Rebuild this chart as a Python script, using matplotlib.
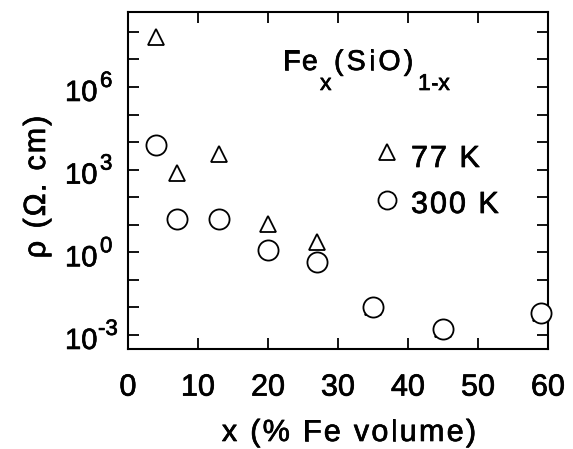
import matplotlib
matplotlib.use("Agg")
import matplotlib.pyplot as plt
import matplotlib.patheffects as pe
import numpy as np
from matplotlib.ticker import FixedLocator, NullFormatter
from matplotlib.font_manager import FontProperties, findfont, get_font

# Data (log10 of resistivity, Ohm.cm)
x_77 = [4, 7, 13, 20, 27, 35, 45, 59]
logrho_77 = [7.8, 2.86, 3.58, 1.04, 0.36, -2.0, -2.8, -2.2]
x_300 = [4, 7, 13, 20, 27, 35, 45, 59]
logrho_300 = [3.9, 1.19, 1.22, 0.07, -0.36, -2.0, -2.8, -2.2]

xticks = [0, 10, 20, 30, 40, 50, 60]
ytick_exp = [-3, 0, 3, 6]
series_labels = ['77 K', '300 K']

FAM = 'Liberation Sans'
plt.rcParams['font.family'] = [FAM, 'DejaVu Sans']

W, H, DPI = 573, 449, 100
fig = plt.figure(figsize=(W / DPI, H / DPI), dpi=DPI)
ax = fig.add_axes([128 / W, 1 - 349 / H, 420 / W, 337 / H])

_font = get_font(findfont(FontProperties(family=FAM)))
THICK = [pe.withStroke(linewidth=0.5, foreground='black')]


def adv(ch, size):
    _font.set_size(size, DPI)
    g = _font.load_char(ord(ch))
    return g.linearHoriAdvance / 65536.0


def tracked_width(s, size, track):
    return sum(adv(c, size) for c in s) + track * (len(s) - 1)


def tracked(x_px, y_px, s, size, track, rotation=0):
    pos = x_px if rotation == 0 else y_px
    for ch in s:
        if rotation == 0:
            fig.text(pos / W, 1 - y_px / H, ch, ha='left', va='baseline', fontsize=size,
                     path_effects=THICK)
            pos += adv(ch, size) + track
        else:
            fig.text(x_px / W, 1 - pos / H, ch, rotation=90, rotation_mode='anchor',
                     ha='left', va='baseline', fontsize=size, path_effects=THICK)
            pos -= adv(ch, size) + track


mk = dict(linestyle='none', markerfacecolor='white', markeredgecolor='black',
          markeredgewidth=1.3)

ax.set_yscale('log')
ax.plot(x_77, 10.0 ** np.array(logrho_77), marker='^', markersize=11, zorder=3,
        clip_on=False, **mk)
ax.plot(x_300, 10.0 ** np.array(logrho_300), marker='o', markersize=14.5, zorder=4,
        clip_on=False, **mk)

ax.set_xlim(0, 60)
ax.set_ylim(10 ** -3.51, 10 ** 8.72)
ax.set_xticks(xticks)
ax.set_xticklabels([str(v) for v in xticks])
ax.yaxis.set_major_locator(FixedLocator([10.0 ** e for e in ytick_exp]))
ax.yaxis.set_major_formatter(NullFormatter())
minor = [10.0 ** e for e in range(-3, 9) if e not in ytick_exp]
ax.yaxis.set_minor_locator(FixedLocator(minor))
ax.yaxis.set_minor_formatter(NullFormatter())

ax.tick_params(which='both', direction='in', top=True, right=True, length=8, width=1.3)
ax.tick_params(axis='x', pad=17, labelsize=22)
for lab in ax.get_xticklabels():
    lab.set_path_effects(THICK)
for s in ax.spines.values():
    s.set_linewidth(1.5)

# y tick labels: "10" with a raised exponent, placed on the y-axis transform
ytr = ax.get_yaxis_transform()
for e in ytick_exp:
    ax.annotate('10', xy=(0, 10.0 ** e), xycoords=ytr, xytext=(-63, -14),
                textcoords='offset pixels', ha='left', va='baseline', fontsize=21,
                path_effects=THICK, annotation_clip=False)
    ax.annotate(str(e), xy=(0, 10.0 ** e), xycoords=ytr, xytext=(-28 if e >= 0 else -30, 0),
                textcoords='offset pixels', ha='left', va='baseline', fontsize=16,
                path_effects=THICK, annotation_clip=False)

# x label (letter-spaced)
xl = 'x (% Fe volume)'
wl = tracked_width(xl, 22, 2.3)
tracked(349 - wl / 2, 441, xl, 22, 2.3)

# y label (letter-spaced, rotated)
yl = 'ρ (Ω. cm)'
wy = tracked_width(yl, 22, 2.0)
tracked(45, 187 + wy / 2, yl, 22, 2.0, rotation=90)

# Formula Fe_x(SiO)_{1-x}
tracked(283, 70, 'Fe', 20.5, 1.5)
tracked(320, 90, 'x', 16.5, 0)
tracked(334, 70, '(SiO)', 20.5, 3.2)
tracked(418, 90, '1-x', 16.5, 0)

# legend
ax.plot([0.617], [0.585], transform=ax.transAxes, marker='^', markersize=11,
        clip_on=False, **mk)
tracked(411, 167, series_labels[0], 22, 2.0)
ax.plot([0.617], [0.442], transform=ax.transAxes, marker='o', markersize=13,
        clip_on=False, **mk)
tracked(411, 213, series_labels[1], 22, 2.0)

fig.savefig('out.png', dpi=DPI)
